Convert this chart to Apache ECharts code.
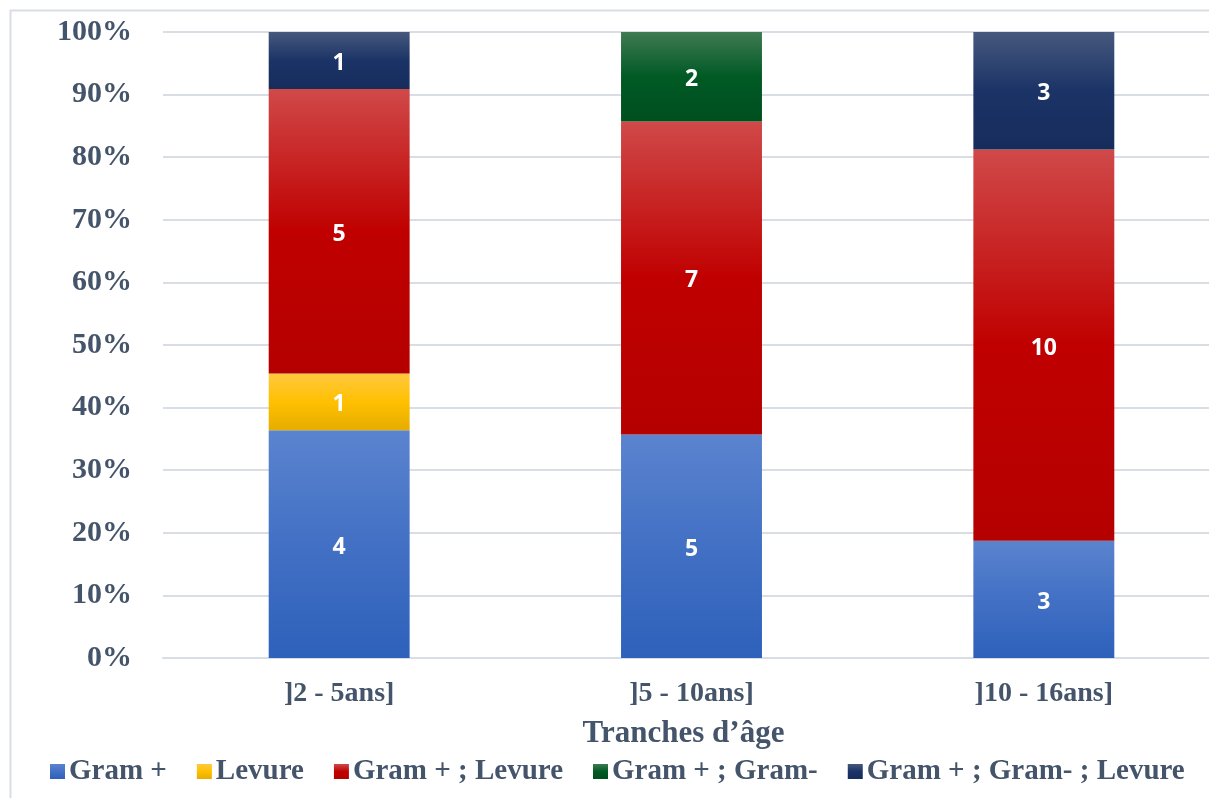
<!DOCTYPE html>
<html>
<head>
<meta charset="utf-8">
<script src="https://cdn.jsdelivr.net/npm/echarts@6/dist/echarts.min.js"></script>
<style>
    html, body { margin: 0; padding: 0; background: #fff; overflow: hidden; }
    .chart { width: 1230px; height: 798px; }
</style>
</head>
<body>
<div class="chart"></div>
<script>
// données du graphique
const categories = [']2 - 5ans]', ']5 - 10ans]', ']10 - 16ans]']
const seriesNames = ['Gram +', 'Levure', 'Gram + ; Levure', 'Gram + ; Gram-', 'Gram + ; Gram- ; Levure']
const gramPos = [4, 5, 3]
const levure = [1, 0, 0]
const gramPosLevure = [5, 7, 10]
const gramPosGramNeg = [0, 2, 0]
const gramPosGramNegLevure = [1, 0, 3]
const yTicks = [0, 10, 20, 30, 40, 50, 60, 70, 80, 90, 100]

// couleurs dégradées (haut clair -> bas foncé)
const fills = [
    ['#5b84cf', '#4270c4', '#2e61bb'],
    ['#ffc93f', '#ffc000', '#e6ad00'],
    ['#d04949', '#c00000', '#b50000'],
    ['#3f7a52', '#005a24', '#004f1f'],
    ['#46587d', '#1b3366', '#162d5c']
]
const textColor = '#44546A'
const serif = '"Liberation Serif", "Times New Roman", serif'

;(function () {
    const el = document.querySelector('.chart')
    const chart = echarts.init(el)
    const counts = [gramPos, levure, gramPosLevure, gramPosGramNeg, gramPosGramNegLevure]
    const totals = categories.map((c, i) => counts.reduce((s, arr) => s + arr[i], 0))

    const series = counts.map((arr, k) => ({
        name: seriesNames[k],
        type: 'bar',
        stack: 'total',
        barWidth: '40%',
        data: arr.map((v, i) => ({ value: v / totals[i] * 100, count: v })),
        itemStyle: {
            color: {
                type: 'linear', x: 0, y: 0, x2: 0, y2: 1,
                colorStops: [
                    { offset: 0, color: fills[k][0] },
                    { offset: 0.5, color: fills[k][1] },
                    { offset: 1, color: fills[k][2] }
                ]
            }
        },
        label: {
            show: true,
            position: 'inside',
            offset: [0, 3],
            color: '#fff',
            fontFamily: '"Noto Sans", sans-serif',
            fontWeight: 'bold',
            fontSize: 23,
            formatter: p => p.data.count > 0 ? String(p.data.count) : ''
        },
        emphasis: { disabled: true }
    }))

    const option = {
        animation: false,
        graphic: [{
            type: 'rect',
            shape: { x: 10.5, y: 10.5, width: 1300, height: 900 },
            style: { fill: 'none', stroke: '#d9dde4', lineWidth: 2 },
            silent: true
        }],
        legend: {
            data: seriesNames,
            bottom: 7,
            left: 45,
            icon: 'rect',
            itemWidth: 15,
            itemHeight: 15,
            itemGap: 30,
            textStyle: {
                color: textColor,
                fontFamily: serif,
                fontWeight: 'bold',
                fontSize: 29,
                padding: [0, 0, 0, -1]
            }
        },
        grid: {
            left: 163,
            right: 10,
            top: 32,
            bottom: 140
        },
        xAxis: {
            type: 'category',
            data: categories,
            name: 'Tranches d’âge',
            nameLocation: 'middle',
            nameGap: 60,
            nameTextStyle: {
                color: textColor,
                fontFamily: serif,
                fontWeight: 'bold',
                fontSize: 31,
                padding: [0, 16, 0, 0]
            },
            axisTick: { show: false },
            axisLine: { lineStyle: { color: '#d9dde4', width: 2 } },
            axisLabel: {
                color: textColor,
                fontFamily: serif,
                fontWeight: 'bold',
                fontSize: 28,
                margin: 22
            }
        },
        yAxis: {
            type: 'value',
            min: yTicks[0],
            max: yTicks[yTicks.length - 1],
            interval: 10,
            axisLine: { show: false },
            axisTick: { show: false },
            axisLabel: {
                color: textColor,
                fontFamily: serif,
                fontWeight: 'bold',
                fontSize: 30,
                margin: 31,
                formatter: '{value}%'
            },
            splitLine: { lineStyle: { color: '#d9dde4', width: 2 } }
        },
        series: series
    }
    chart.setOption(option)
})();
</script>
</body>
</html>
